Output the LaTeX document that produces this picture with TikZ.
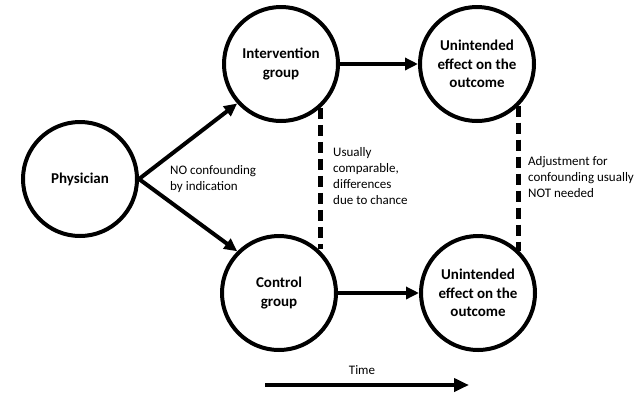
\documentclass[tikz,border=0pt]{standalone}
\usepackage{fontspec}
\setmainfont{Carlito}
\usetikzlibrary{arrows.meta}
\begin{document}
\begin{tikzpicture}[x=1pt,y=-1pt,
  circ/.style={draw=black,line width=4pt,circle,minimum size=114pt,inner sep=0pt,align=center,font=\bfseries\fontsize{15}{18.5}\selectfont},
  lbl/.style={anchor=base west,align=left,inner sep=0pt,font=\fontsize{13}{15.7}\selectfont},
  arr/.style={line width=4pt,-{Triangle[length=13pt,width=12pt]}},
  dsh/.style={line width=4.5pt,dash pattern=on 11pt off 6pt}]
\useasboundingbox (0,0) rectangle (644,397);
\node[circ] (phys) at (80,179) {Physician};
\node[circ] (int) at (281,64) {Intervention\\group};
\node[circ] (ctrl) at (279,293) {Control\\group};
\node[circ] (un1) at (477,64) {Unintended\\effect on the\\outcome};
\node[circ] (un2) at (478,293) {Unintended\\effect on the\\outcome};
\draw[arr] (phys.east) -- (int.222);
\draw[arr] (phys.east) -- (ctrl.135);
\draw[arr] (int.east) -- (un1.west);
\draw[arr] (ctrl.east) -- (un2.west);
\draw[dsh] (int.-48) -- (int.-48 |- ctrl.48);
\draw[dsh] (un1.-45) -- (un1.-45 |- un2.45);
\node[lbl] (noconf) at (170,190) {NO confounding\\by indication};
\node[lbl] (usual) at (333,204) {Usually\\comparable,\\differences\\due to chance};
\node[lbl] (adj) at (528,197) {Adjustment for\\confounding usually\\NOT needed};
\node[inner sep=0pt,font=\fontsize{13}{15.7}\selectfont] (time) at (362,370) {Time};
\coordinate (t0) at (265,385);
\coordinate (t1) at (469,385);
\draw[line width=4pt,-{Triangle[length=15pt,width=13pt]}] (t0) -- (t1);
\end{tikzpicture}
\end{document}
